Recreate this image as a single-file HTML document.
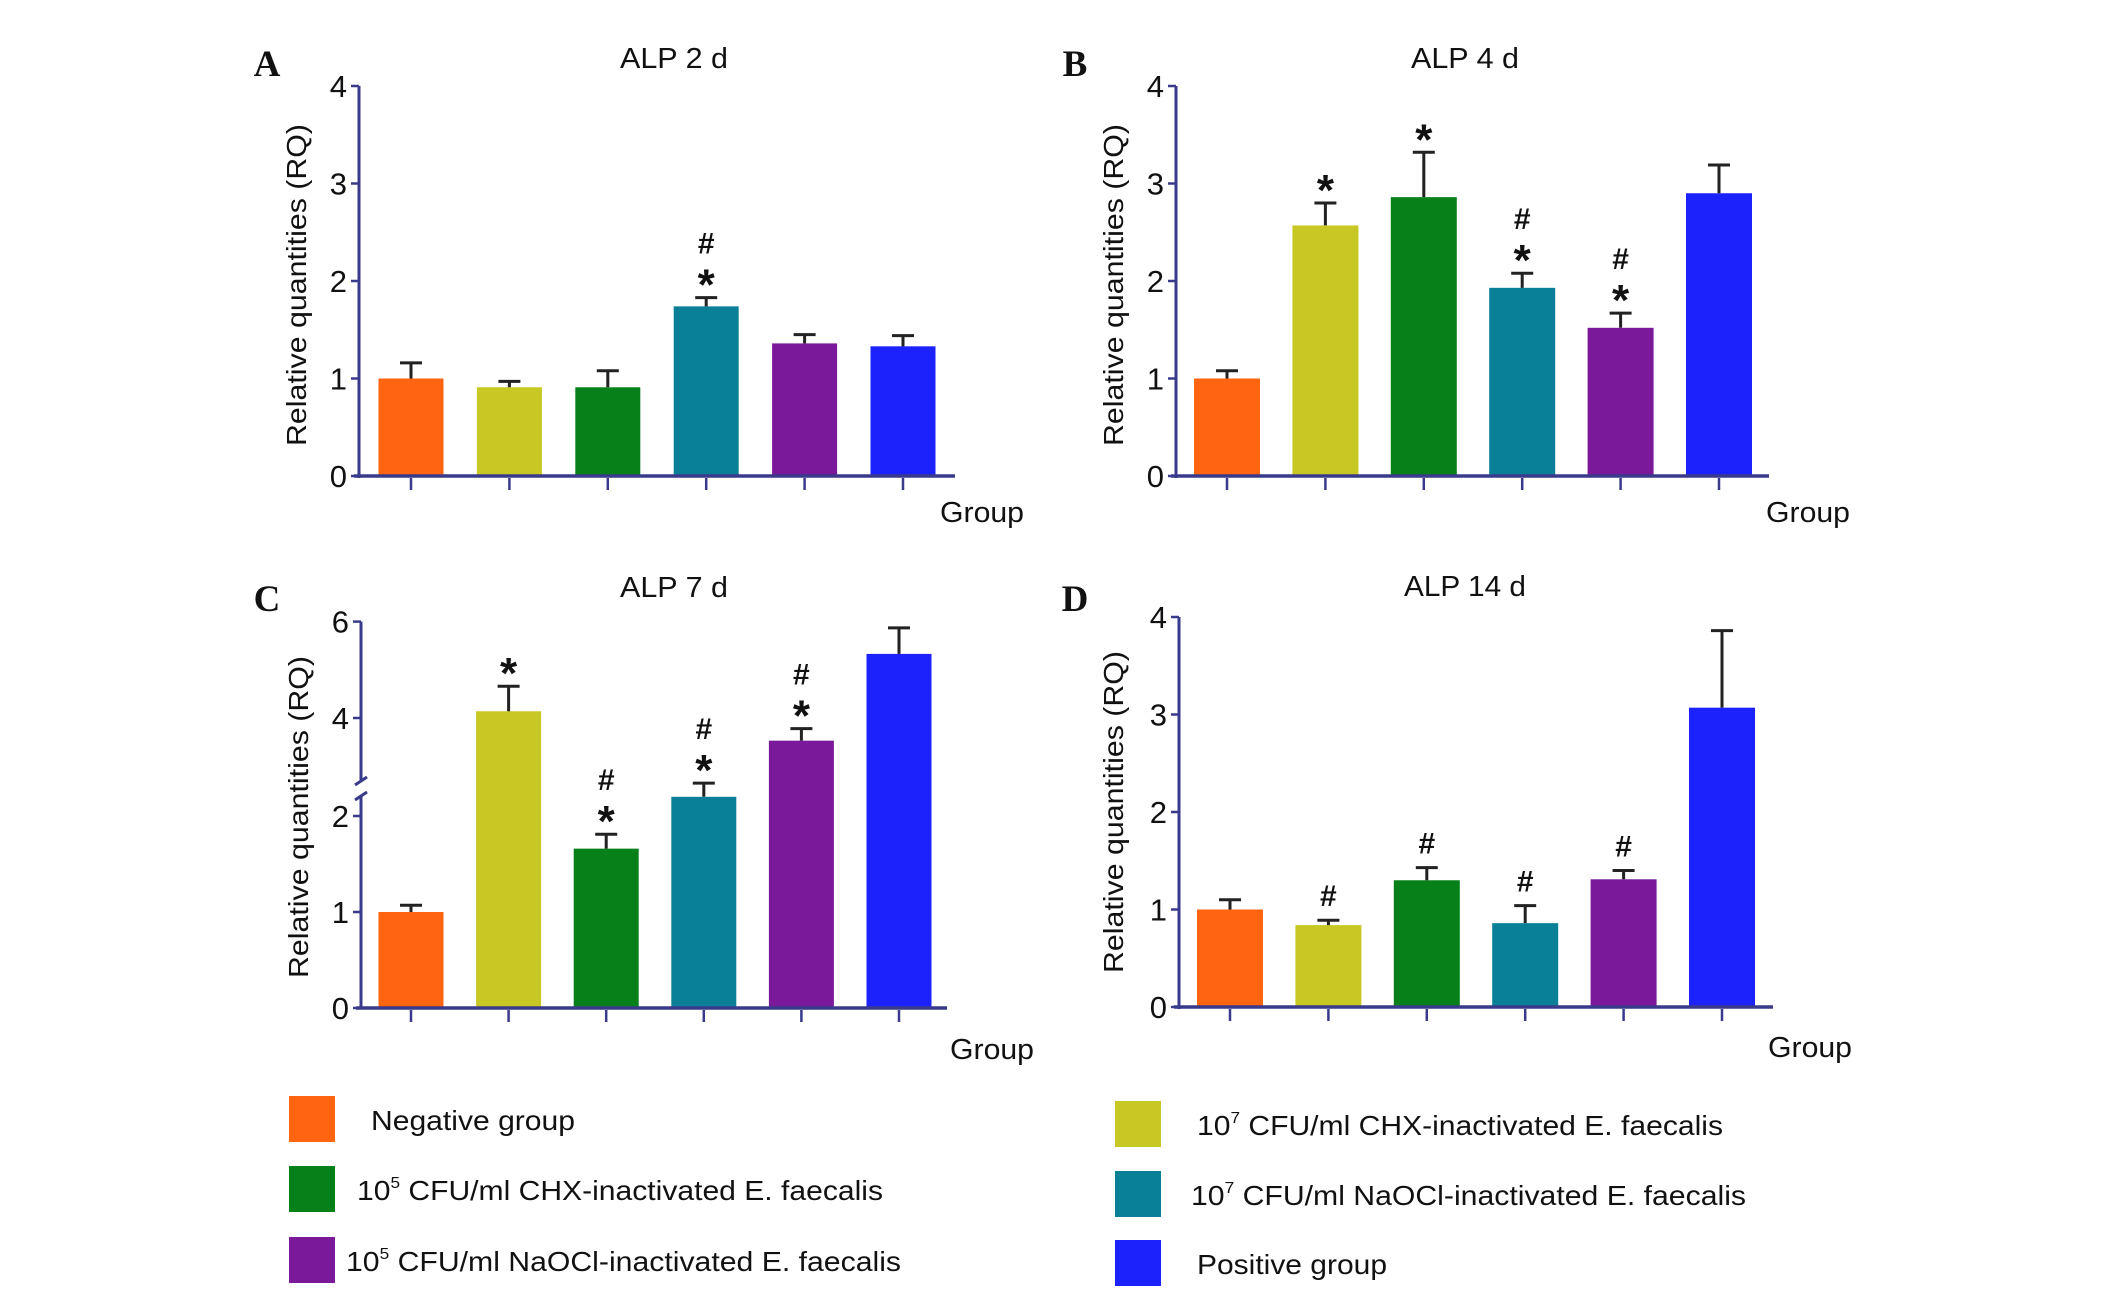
<!DOCTYPE html>
<html><head><meta charset="utf-8"><style>
html,body{margin:0;padding:0;background:#fff}
svg{display:block}
text{font-family:"Liberation Sans",Arial,sans-serif;fill:#111}
.letter{font-family:"Liberation Serif",serif;font-weight:bold}
</style></head><body>
<svg id="fig" width="2126" height="1293" viewBox="0 0 2126 1293" xmlns="http://www.w3.org/2000/svg"></svg>
<script>
const colors = ["#ff6510","#c8c824","#07801a","#0a8098","#7a1a9a","#1c22fc"];
const groupNames = ["negative","1e7-chx","1e5-chx","1e7-naocl","1e5-naocl","positive"];
const valuesA = [1.0,0.91,0.91,1.74,1.36,1.33];
const errorsA = [1.16,0.97,1.08,1.83,1.45,1.44];
const marksA = ["","","","*#","",""];
const valuesB = [1.0,2.57,2.86,1.93,1.52,2.90];
const errorsB = [1.08,2.80,3.32,2.08,1.67,3.19];
const marksB = ["","*","*","*#","*#",""];
const valuesC = [1.0,4.14,1.66,2.2,3.53,5.33];
const errorsC = [1.07,4.66,1.81,2.6,3.78,5.87];
const marksC = ["","*","*#","*#","*#",""];
const valuesD = [1.0,0.84,1.30,0.86,1.31,3.07];
const errorsD = [1.1,0.89,1.43,1.04,1.40,3.86];
const marksD = ["","#","#","#","#",""];
const ticksABD = [0,1,2,3,4];
const ticksC = [0,1,2,4,6];

const svg = document.getElementById('fig');
const NS = "http://www.w3.org/2000/svg";
function el(tag, attrs, parent){
  const e = document.createElementNS(NS, tag);
  for (const k in attrs) e.setAttribute(k, attrs[k]);
  (parent||svg).appendChild(e);
  return e;
}
const AX = "#3a3a8c";

function panel(cfg){
  const g = el('g', {});
  
  
  const y = cfg.yScale;
  const t = el('text', {x:cfg.titleX, y:cfg.titleY, 'font-size':29, 'text-anchor':'middle', textLength:cfg.titleW, lengthAdjust:'spacingAndGlyphs'}, g);
  t.textContent = cfg.title;
  
  
  const L = el('text', {x:cfg.letterX, y:cfg.letterY, 'font-size':37, 'text-anchor':'middle', class:'letter'}, g);
  L.textContent = cfg.id.toUpperCase();
  
  
  const yl = el('text', {x:0, y:0, 'font-size':28, 'text-anchor':'middle', textLength:322, lengthAdjust:'spacingAndGlyphs', transform:`translate(${cfg.ylabX},${cfg.ylabY}) rotate(-90)`}, g);
  yl.textContent = "Relative quantities (RQ)";
  
  
  cfg.values.forEach((v,i)=>{
    const cx = cfg.x0 + i*cfg.step;
    const b = el('rect', {x:cx-cfg.bw/2, y:y(v), width:cfg.bw, height:y(0)-y(v), fill:colors[i]}, g);
    
    
    const e = cfg.errors[i];
    const eb = el('path', {d:`M${cx},${y(v)}V${y(e)}M${cx-11},${y(e)}H${cx+11}`, stroke:'#222', 'stroke-width':3, fill:'none'}, g);
    
    
    const m = cfg.marks[i];
    let off = 0;
    if (m.includes('*')) {
      const s = el('text', {x:cx, y:y(e)+2, 'font-size':44, 'font-weight':'bold', 'text-anchor':'middle', fill:'#222'}, g);
      s.textContent = '*';
      
      
      off = 30;
    }
    if (m.includes('#')) {
      const h = el('text', {x:cx, y:y(e)-14-off, 'font-size':30, 'font-weight':'bold', 'text-anchor':'middle', fill:'#222'}, g);
      h.textContent = '#';
      
      
    }
    const tk = el('line', {x1:cx, x2:cx, y1:y(0)+2, y2:y(0)+14, stroke:AX, 'stroke-width':2.5}, g);
    
    
  });
  const xa = el('line', {x1:cfg.axX-5, x2:cfg.axEnd, y1:y(0), y2:y(0), stroke:AX, 'stroke-width':3.5}, g);
  
  
  if (cfg.brk) {
    const a1 = el('line', {x1:cfg.axX, x2:cfg.axX, y1:y(0), y2:cfg.brk[0], stroke:AX, 'stroke-width':3}, g);
    
    
    const a2 = el('line', {x1:cfg.axX, x2:cfg.axX, y1:cfg.brk[1], y2:y(cfg.ticks[cfg.ticks.length-1]), stroke:AX, 'stroke-width':3}, g);
    
    
    const bm = el('path', {d:`M${cfg.axX-6},${cfg.brk[0]+4}L${cfg.axX+6},${cfg.brk[0]-4}M${cfg.axX-6},${cfg.brk[1]+4}L${cfg.axX+6},${cfg.brk[1]-4}`, stroke:AX, 'stroke-width':3}, g);
    
    
  } else {
    const ya = el('line', {x1:cfg.axX, x2:cfg.axX, y1:y(0)+2, y2:y(cfg.ticks[cfg.ticks.length-1]), stroke:AX, 'stroke-width':3}, g);
    
    
  }
  cfg.ticks.forEach(tv=>{
    const tl = el('line', {x1:cfg.axX-8, x2:cfg.axX, y1:y(tv), y2:y(tv), stroke:AX, 'stroke-width':2.5}, g);
    
    
    const tt = el('text', {x:cfg.axX-12, y:y(tv)+11, 'font-size':31, 'text-anchor':'end'}, g);
    tt.textContent = tv;
    
    
  });
  const gl = el('text', {x:cfg.groupX, y:cfg.groupY, 'font-size':29, 'text-anchor':'middle', textLength:84, lengthAdjust:'spacingAndGlyphs'}, g);
  gl.textContent = 'Group';
  
  
}
function lin(y0, ppu){ return v => y0 - v*ppu; }
function scaleC(v){
  if (v <= 2.2) return 1008 - v*96;
  if (v <= 2.75) return 797 - (v-2.2)/0.55*19;
  return 718 - (v-4)*48.2;
}
panel({id:'a', title:'ALP 2 d', titleW:108, titleX:674, titleY:68, letterX:267, letterY:76, ylabX:306, ylabY:285,
  yScale:lin(476,97.5), values:valuesA, errors:errorsA, marks:marksA, ticks:ticksABD,
  x0:411, step:98.4, bw:65, axX:359, axEnd:955, groupX:982, groupY:522});
panel({id:'b', title:'ALP 4 d', titleW:108, titleX:1465, titleY:68, letterX:1075, letterY:76, ylabX:1123, ylabY:285,
  yScale:lin(476,97.5), values:valuesB, errors:errorsB, marks:marksB, ticks:ticksABD,
  x0:1227, step:98.4, bw:66, axX:1176, axEnd:1769, groupX:1808, groupY:522});
panel({id:'c', title:'ALP 7 d', titleW:108, titleX:674, titleY:597, letterX:267, letterY:611, ylabX:308, ylabY:817,
  yScale:scaleC, values:valuesC, errors:errorsC, marks:marksC, ticks:ticksC, brk:[796,781],
  x0:411, step:97.6, bw:65, axX:361, axEnd:947, groupX:992, groupY:1059});
panel({id:'d', title:'ALP 14 d', titleW:122, titleX:1465, titleY:596, letterX:1075, letterY:611, ylabX:1123, ylabY:812,
  yScale:lin(1007,97.5), values:valuesD, errors:errorsD, marks:marksD, ticks:ticksABD,
  x0:1230, step:98.4, bw:66, axX:1179, axEnd:1773, groupX:1810, groupY:1057});

const legend = [
  {c:0, sx:289, sy:1096, tx:371, pre:'Negative group', sup:'', post:'', w:204},
  {c:2, sx:289, sy:1166, tx:357, pre:'10', sup:'5', post:' CFU/ml CHX-inactivated E. faecalis', w:526},
  {c:4, sx:289, sy:1237, tx:346, pre:'10', sup:'5', post:' CFU/ml NaOCl-inactivated E. faecalis', w:555},
  {c:1, sx:1115, sy:1101, tx:1197, pre:'10', sup:'7', post:' CFU/ml CHX-inactivated E. faecalis', w:526},
  {c:3, sx:1115, sy:1171, tx:1191, pre:'10', sup:'7', post:' CFU/ml NaOCl-inactivated E. faecalis', w:555},
  {c:5, sx:1115, sy:1240, tx:1197, pre:'Positive group', sup:'', post:'', w:190}
];
legend.forEach(it=>{
  const g = el('g', {});
  
  
  const r = el('rect', {x:it.sx, y:it.sy, width:46, height:46, fill:colors[it.c]}, g);
  
  
  const t = el('text', {x:it.tx, y:it.sy+34, 'font-size':28, textLength:it.w, lengthAdjust:'spacingAndGlyphs'}, g);
  
  
  const a = el('tspan', {}, t); a.textContent = it.pre;
  if (it.sup) {
    const s = el('tspan', {'font-size':16, dy:-12}, t); s.textContent = it.sup;
    const p = el('tspan', {dy:12}, t); p.textContent = it.post;
  }
});
</script>
</body></html>
